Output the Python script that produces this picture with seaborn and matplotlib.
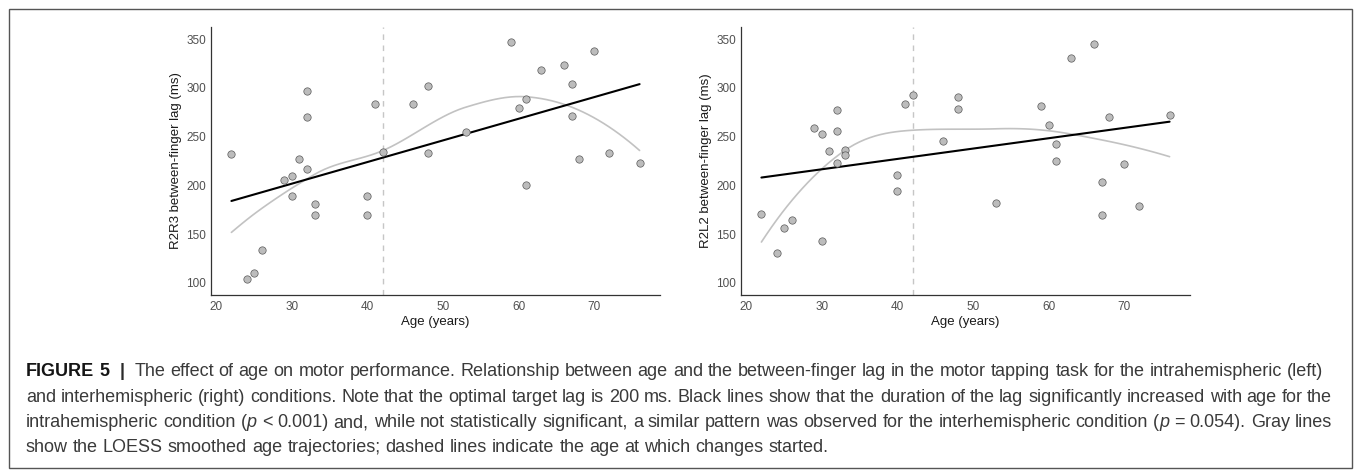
import numpy as np
import pandas as pd
import matplotlib
matplotlib.use("Agg")
import matplotlib.pyplot as plt
from matplotlib.patches import Rectangle
import seaborn as sns

# ---------------- data ----------------
age = [22, 24, 25, 26, 29, 30, 30, 31, 32, 32, 32, 33, 33, 40, 40, 41, 42,
       46, 48, 48, 53, 59, 60, 61, 61, 63, 66, 67, 67, 68, 70, 72, 76]
r2r3_lag = [232, 104, 110, 134, 206, 210, 189, 227, 297, 270, 217, 181, 170,
            189, 170, 284, 234, 284, 302, 233, 255, 347, 279, 289, 200, 318,
            323, 304, 271, 227, 338, 233, 223]
age_r = [22, 24, 25, 26, 29, 30, 30, 31, 32, 32, 32, 33, 33, 40, 40, 41, 42,
         46, 48, 48, 53, 59, 60, 61, 61, 63, 66, 67, 67, 68, 70, 72, 76]
r2l2_lag = [171, 131, 156, 164, 259, 253, 143, 235, 277, 256, 223, 236, 231,
            211, 194, 283, 293, 246, 291, 278, 182, 281, 262, 242, 225, 331,
            345, 203, 170, 270, 222, 179, 272]
change_age = 42
x_ticks = [20, 30, 40, 50, 60, 70]
y_ticks = [100, 150, 200, 250, 300, 350]
y_labels = ["R2R3 between-finger lag (ms)", "R2L2 between-finger lag (ms)"]
x_label = "Age (years)"

caption_lines = [
    [("FIGURE 5", "b"), (" ", "n"), ("|", "bar"), (" ", "n"),
     ("The effect of age on motor performance. Relationship between age and the "
      "between-finger lag in the motor tapping task for the intrahemispheric (left)", "n")],
    [("and interhemispheric (right) conditions. Note that the optimal target lag is "
      "200 ms. Black lines show that the duration of the lag significantly increased "
      "with age for the", "n")],
    [("intrahemispheric condition (", "n"), ("p", "i"),
     (" < 0.001) and, while not statistically significant, a similar pattern was "
      "observed for the interhemispheric condition (", "n"), ("p", "i"),
     (" = 0.054). Gray lines", "n")],
    [("show the LOESS smoothed age trajectories; dashed lines indicate the age at "
      "which changes started.", "n")],
]


def local_fit(x, y, x0, q):
    d = np.abs(x - x0)
    h = np.sort(d)[q - 1]
    w = np.clip(1 - (d / h) ** 3, 0, None) ** 3
    X = np.vstack([np.ones(len(x)), x - x0, (x - x0) ** 2]).T
    sw = np.sqrt(w)
    beta = np.linalg.lstsq(X * sw[:, None], y * sw, rcond=None)[0]
    return beta[0], beta[1]


def loess(x, y, xs, span=0.75, cell=0.2):
    """loess (degree 2, tricube) with kd-tree vertices + cubic Hermite
    interpolation, as R's default surface='interpolate'."""
    order = np.argsort(x, kind="stable")
    x = np.asarray(x, float)[order]
    y = np.asarray(y, float)[order]
    n = len(x)
    q = int(np.floor(n * span))
    fc = int(np.floor(n * span * cell))
    rng = x[-1] - x[0]
    lo, hi = x[0] - 0.005 * rng, x[-1] + 0.005 * rng
    verts = {lo, hi}

    def split(l, u, a, b):  # 1-based inclusive indices
        if u - l + 1 <= fc:
            return
        m = (l + u) // 2
        v = x[m - 1]
        if v == a or v == b:
            return
        verts.add(v)
        split(l, m, a, v)
        split(m + 1, u, v, b)

    split(1, n, lo, hi)
    vs = np.array(sorted(verts))
    vals = np.array([local_fit(x, y, v, q) for v in vs])
    out = []
    for x0 in xs:
        i = min(np.searchsorted(vs, x0, side="right") - 1, len(vs) - 2)
        x1, x2 = vs[i], vs[i + 1]
        hh = x2 - x1
        t = (x0 - x1) / hh
        f1, d1 = vals[i]
        f2, d2 = vals[i + 1]
        h00 = 2 * t**3 - 3 * t**2 + 1
        h10 = t**3 - 2 * t**2 + t
        h01 = -2 * t**3 + 3 * t**2
        h11 = t**3 - t**2
        out.append(h00 * f1 + h10 * hh * d1 + h01 * f2 + h11 * hh * d2)
    return np.array(out)


sns.set_style("white")
plt.rcParams["font.family"] = ["Liberation Sans", "DejaVu Sans"]

W, H = 1355, 470
fig = plt.figure(figsize=(W / 100, H / 100), dpi=100)

panels = [(211, age, r2r3_lag, y_labels[0]), (741, age_r, r2l2_lag, y_labels[1])]
for left_px, xs, ys, ylab in panels:
    ax = fig.add_axes([left_px / W, (H - 295) / H, 449 / W, 268 / H])
    df = pd.DataFrame({"age": xs, "lag": ys})
    ax.axvline(change_age, color="#c6c6c6", lw=1.0, ls=(0, (4, 4)), zorder=1)
    grid = np.linspace(min(xs), max(xs), 80)
    sm = pd.DataFrame({"age": grid, "lag": loess(xs, ys, grid)})
    sns.lineplot(data=sm, x="age", y="lag", ax=ax, color="#c2c2c2", lw=1.2,
                 zorder=2, estimator=None, sort=True)
    sns.regplot(data=df, x="age", y="lag", ax=ax, scatter=False, ci=None,
                truncate=True, color="black", line_kws={"lw": 1.5, "zorder": 3})
    sns.scatterplot(data=df, x="age", y="lag", ax=ax, s=28, color="#bcbcbc",
                    edgecolor="#5a5a5a", linewidth=0.5, zorder=4)
    ax.set_xlim(19.3, 78.7)
    ax.set_ylim(87.5, 362.5)
    ax.set_xticks(x_ticks)
    ax.set_yticks(y_ticks)
    ax.tick_params(axis="both", direction="out", length=2.4, width=0.7,
                   color="#333333", labelcolor="#505050", labelsize=8.5)
    ax.tick_params(axis="y", pad=1.0)
    ax.tick_params(axis="x", pad=2.0)
    for side in ["top", "right"]:
        ax.spines[side].set_visible(False)
    for side in ["left", "bottom"]:
        ax.spines[side].set_color("#333333")
        ax.spines[side].set_linewidth(0.9)
    ax.set_xlabel(x_label, fontsize=9.5, color="#1a1a1a", labelpad=2)
    ax.set_ylabel(ylab, fontsize=9.5, color="#1a1a1a", labelpad=3)

# outer frame
fig.patches.append(Rectangle((9 / W, 1 - 468 / H), (1352 - 9) / W, (468 - 9) / H,
                             transform=fig.transFigure, fill=False,
                             edgecolor="#555555", lw=1.0))

# caption, word by word, justified
renderer = fig.canvas.get_renderer()
CAP_FONT = ["Liberation Sans", "DejaVu Sans"]
cap_size = 13.0
line_y = [376, 401.5, 427, 452]
right_edges = [1323, 1332, 1332, None]
x_start = 26
BAR_PAD = 5


def style_kw(st):
    if st == "b":
        return dict(fontweight="bold", color="#151515")
    if st == "bar":
        return dict(fontweight="bold", color="#2a2a2a")
    if st == "i":
        return dict(fontstyle="italic", color="#3a3a3a")
    return dict(color="#3a3a3a")


def measure(txt, st):
    t = fig.text(0, 0, txt, fontsize=cap_size, family=CAP_FONT, **style_kw(st))
    wdt = t.get_window_extent(renderer).width
    t.remove()
    return wdt + (2 * BAR_PAD if st == "bar" else 0)


space_w = measure("a a", "n") - measure("aa", "n")

for runs, y, right in zip(caption_lines, line_y, right_edges):
    words = []
    cur = []
    for txt, st in runs:
        parts = txt.split(" ")
        for i, p in enumerate(parts):
            if i > 0 and cur:
                words.append(cur)
                cur = []
            if p:
                cur.append((p, st))
    if cur:
        words.append(cur)
    widths = [[measure(p, st) for p, st in wd] for wd in words]
    total = sum(sum(w) for w in widths)
    if right is not None and len(words) > 1:
        gap = (right - x_start - total) / (len(words) - 1)
    else:
        gap = space_w
    x = x_start
    for wd, wl in zip(words, widths):
        for (p, st), wv in zip(wd, wl):
            off = BAR_PAD if st == "bar" else 0
            fig.text((x + off) / W, 1 - y / H, p, fontsize=cap_size,
                     family=CAP_FONT, va="baseline", ha="left", **style_kw(st))
            x += wv
        x += gap

fig.savefig("out.png", dpi=100)
